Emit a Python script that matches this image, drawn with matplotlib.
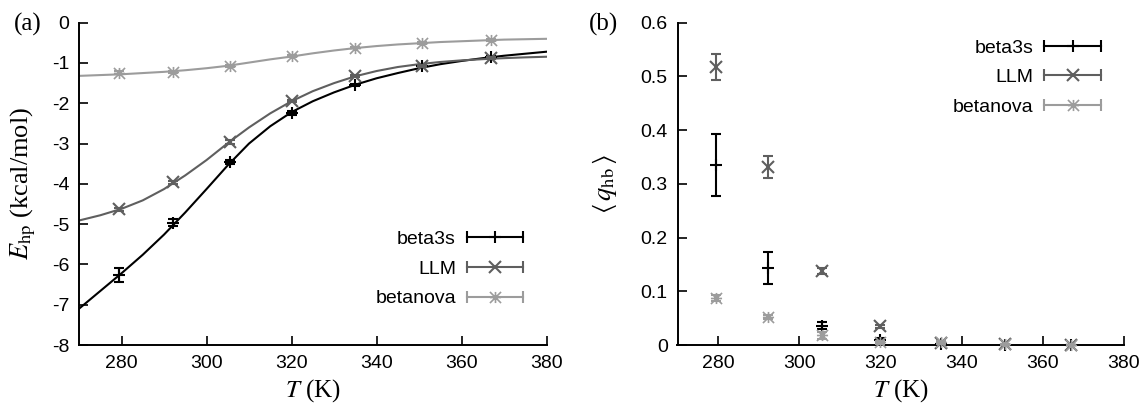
import matplotlib
matplotlib.use("Agg")
import matplotlib.pyplot as plt
from matplotlib.lines import Line2D
from matplotlib.path import Path
from matplotlib.legend_handler import HandlerBase

plt.rcParams['font.family'] = 'Liberation Sans'
plt.rcParams['mathtext.fontset'] = 'stix'
plt.rcParams['axes.unicode_minus'] = False

# data - temperatures (K)
temps = [279.5, 292.2, 305.6, 320.0, 335.0, 350.6, 367.0]

# (a) hydrophobic energy, kcal/mol
e_beta3s = [-6.26, -4.96, -3.46, -2.25, -1.55, -1.07, -0.84]
e_beta3s_err = [0.18, 0.09, 0.05, 0.05, 0.03, 0.02, 0.02]
e_llm = [-4.63, -3.96, -2.96, -1.94, -1.32, -1.07, -0.87]
e_llm_err = [0.04, 0.04, 0.04, 0.03, 0.03, 0.02, 0.02]
e_betanova = [-1.24, -1.23, -1.07, -0.83, -0.62, -0.51, -0.43]
e_betanova_err = [0.04, 0.03, 0.03, 0.03, 0.02, 0.02, 0.02]

# fit curves
fit_t = [270, 275, 280, 285, 290, 295, 300, 305, 310, 315, 320, 325,
         330, 335, 340, 345, 350, 355, 360, 365, 370, 375, 380]
fit_beta3s = [-7.10, -6.66, -6.22, -5.76, -5.26, -4.71, -4.13, -3.54, -3.00,
              -2.57, -2.22, -1.95, -1.73, -1.54, -1.38, -1.25, -1.13, -1.03,
              -0.95, -0.88, -0.82, -0.77, -0.72]
fit_llm = [-4.91, -4.78, -4.62, -4.41, -4.13, -3.79, -3.41, -2.99, -2.60,
           -2.25, -1.95, -1.70, -1.50, -1.33, -1.20, -1.10, -1.03, -0.975,
           -0.935, -0.905, -0.88, -0.86, -0.845]
fit_betanova = [-1.32, -1.30, -1.28, -1.25, -1.22, -1.18, -1.13, -1.07, -0.99,
                -0.91, -0.84, -0.76, -0.69, -0.63, -0.58, -0.54, -0.51, -0.48,
                -0.46, -0.44, -0.42, -0.41, -0.40]

# (b) hydrogen bond order parameter
q_beta3s = [0.335, 0.144, 0.036, 0.010, 0.002, 0.0, 0.0]
q_beta3s_err = [0.058, 0.030, 0.007, 0.003, 0.001, 0.0, 0.0]
q_llm = [0.518, 0.331, 0.138, 0.035, 0.004, 0.001, 0.0]
q_llm_err = [0.024, 0.020, 0.006, 0.003, 0.002, 0.001, 0.0]
q_betanova = [0.088, 0.052, 0.018, 0.005, 0.005, 0.001, 0.0]
q_betanova_err = [0.006, 0.004, 0.006, 0.003, 0.003, 0.001, 0.0]

labels = ['beta3s', 'LLM', 'betanova']
x_ticks = [280, 300, 320, 340, 360, 380]
ya_ticks = [0, -1, -2, -3, -4, -5, -6, -7, -8]
yb_ticks = [0, 0.1, 0.2, 0.3, 0.4, 0.5, 0.6]
yb_ticklabels = ['0', '0.1', '0.2', '0.3', '0.4', '0.5', '0.6']

#styles
# gnuplot style asterisk: plus + cross
ASTER = Path([(-1, 0), (1, 0), (0, -1), (0, 1), (-1, -1), (1, 1), (-1, 1), (1, -1)],
             [Path.MOVETO, Path.LINETO] * 4)
COLORS = ['black', '#5f5f5f', '#9c9c9c']
MARKERS = ['+', 'x', ASTER]
SIZES = [9, 9, 8]
MEWS = [1.5, 1.5, 1.2]
CAP = 3.6
SERIF = 'Liberation Serif'
FS_TICK = 14


class ErrLegendHandler(HandlerBase):
    # gnuplot-like key: horizontal bar with end caps and point in the middle
    def create_artists(self, legend, orig_handle, xdescent, ydescent,
                       width, height, fontsize, trans):
        c = orig_handle.get_color()
        y = height / 2 - ydescent
        x0, x1 = -xdescent, -xdescent + width
        bar = Line2D([x0, x1], [y, y], color=c, lw=1.5)
        caps = Line2D([x0, x1], [y, y], ls='none', marker='|', ms=9,
                      mew=1.5, color=c)
        mid = Line2D([(x0 + x1) / 2], [y], ls='none',
                     marker=orig_handle.get_marker(),
                     ms=orig_handle.get_markersize(),
                     mew=orig_handle.get_markeredgewidth(), color=c)
        for a in (bar, caps, mid):
            a.set_transform(trans)
        return [bar, caps, mid]


fig = plt.figure(figsize=(11.43, 4.04), dpi=100)
H = 404.0
W = 1143.0
ax1 = fig.add_axes([79 / W, 59 / H, 467.5 / W, 322.3 / H])
ax2 = fig.add_axes([677.5 / W, 59 / H, 446.5 / W, 322.3 / H])

# panel a
for fy, c in zip([fit_beta3s, fit_llm, fit_betanova], COLORS):
    ax1.plot(fit_t, fy, color=c, lw=1.5, zorder=2)
for ys, es, c, m, s, w in zip([e_beta3s, e_llm, e_betanova],
                              [e_beta3s_err, e_llm_err, e_betanova_err],
                              COLORS, MARKERS, SIZES, MEWS):
    ax1.errorbar(temps, ys, yerr=es, fmt='none', ecolor=c, elinewidth=1.5,
                 capsize=CAP, capthick=1.5, zorder=3)
    ax1.plot(temps, ys, ls='none', marker=m, ms=s, mew=w, color=c, zorder=3)

ax1.set_xlim(270, 380)
ax1.set_ylim(-8, 0)
ax1.set_yticks(ya_ticks)
ax1.set_ylabel(r'$E_{\mathrm{hp}}$ (kcal/mol)', fontsize=19, family=SERIF)
ax1.yaxis.set_label_coords(-0.088, 0.5)

# panel b
for ys, es, c, m, s, w in zip([q_beta3s, q_llm, q_betanova],
                              [q_beta3s_err, q_llm_err, q_betanova_err],
                              COLORS, MARKERS, SIZES, MEWS):
    ax2.errorbar(temps, ys, yerr=es, fmt='none', ecolor=c, elinewidth=1.5,
                 capsize=CAP, capthick=1.5, zorder=3, clip_on=False)
    ax2.plot(temps, ys, ls='none', marker=m, ms=s, mew=w, color=c,
             zorder=3, clip_on=False)

ax2.set_xlim(270, 380)
ax2.set_ylim(0, 0.6)
ax2.set_yticks(yb_ticks)
ax2.set_yticklabels(yb_ticklabels)
ax2.set_ylabel(r'$\langle\,q_{\mathrm{hb}}\,\rangle$', fontsize=19)
ax2.yaxis.set_label_coords(-0.13, 0.5)

for ax in (ax1, ax2):
    ax.set_xticks(x_ticks)
    ax.set_xlabel(r'$T$ (K)', fontsize=18, family=SERIF, labelpad=4)
    ax.spines['top'].set_visible(False)
    ax.spines['right'].set_visible(False)
    ax.spines['left'].set_linewidth(1.4)
    ax.spines['bottom'].set_linewidth(1.4)
    ax.tick_params(direction='in', length=6.5, width=1.2, labelsize=FS_TICK,
                   pad=7)

# keys
proxies = [Line2D([], [], color=c, marker=m, ms=s, mew=w)
           for c, m, s, w in zip(COLORS, MARKERS, SIZES, MEWS)]
leg_kw = dict(frameon=False, markerfirst=False, fontsize=FS_TICK,
              handlelength=2.9, handletextpad=0.55, labelspacing=0.62,
              borderpad=0, borderaxespad=0,
              handler_map={Line2D: ErrLegendHandler()})
ax1.legend(proxies, labels, loc='center right',
           bbox_to_anchor=(0.950, 0.236), **leg_kw)
ax2.legend(proxies, labels, loc='center right',
           bbox_to_anchor=(0.948, 0.830), **leg_kw)

fig.text(14 / W, 1 - 24 / H, '(a)', fontsize=18, family=SERIF, va='center')
fig.text(589 / W, 1 - 24 / H, '(b)', fontsize=18, family=SERIF, va='center')

fig.savefig('out.png', dpi=100)
